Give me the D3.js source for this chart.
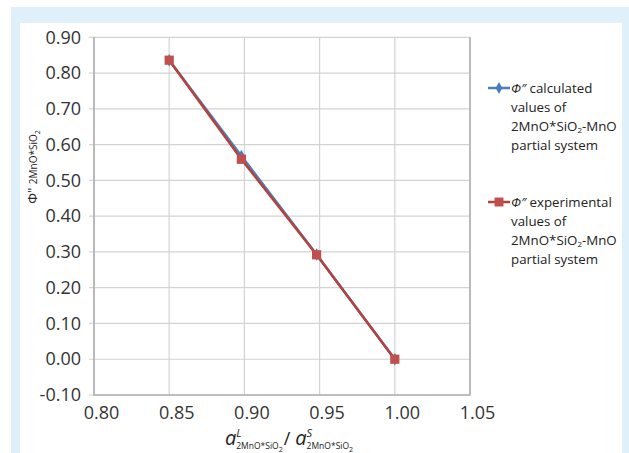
<!DOCTYPE html>
<html>
<head>
<meta charset="utf-8">
<script src="https://cdn.jsdelivr.net/npm/d3@7"></script>
<style>
  body { margin: 0; background: #fff; }
  text { font-family: "Open Sans", sans-serif; }
</style>
</head>
<body>
<svg width="629" height="453"></svg>
<script>
  // data
  var xValues = [0.850, 0.898, 0.948, 1.000];
  var calculated = [0.836, 0.568, 0.293, 0.000];
  var experimental = [0.836, 0.559, 0.292, 0.000];
  var xTicks = [0.80, 0.85, 0.90, 0.95, 1.00, 1.05];
  var yTicks = [-0.10, 0.00, 0.10, 0.20, 0.30, 0.40, 0.50, 0.60, 0.70, 0.80, 0.90];
  var legendLines = [
    ["calculated", "values of", "2MnO*SiO|2|-MnO", "partial system"],
    ["experimental", "values of", "2MnO*SiO|2|-MnO", "partial system"]
  ];

  var blue = "#4a7ebb", red = "#c0504d", redLine = "#b5413d";
  var grid = "#d3d3d3", axisCol = "#b0b0b0";

  var svg = d3.select("svg");

  // frame: light blue band with white panel
  svg.append("rect").attr("x", 11).attr("y", 7).attr("width", 618).attr("height", 446).attr("fill", "#dff0fa");
  svg.append("rect").attr("x", 20).attr("y", 23).attr("width", 602).attr("height", 430).attr("fill", "#fff");

  var x = d3.scaleLinear().domain([0.80, 1.05]).range([94, 470]);
  var y = d3.scaleLinear().domain([-0.10, 0.90]).range([395, 37.3]);

  // grid
  svg.append("g").selectAll("line").data(yTicks).enter().append("line")
    .attr("x1", x(0.80) - 5).attr("x2", x(1.05))
    .attr("y1", function(d){ return y(d); }).attr("y2", function(d){ return y(d); })
    .attr("stroke", grid).attr("stroke-width", 1.2);
  svg.append("g").selectAll("line").data(xTicks).enter().append("line")
    .attr("x1", function(d){ return x(d); }).attr("x2", function(d){ return x(d); })
    .attr("y1", y(0.90)).attr("y2", y(-0.10))
    .attr("stroke", grid).attr("stroke-width", 1.2);

  // axis lines
  svg.append("path")
    .attr("d", "M" + x(0.80) + "," + y(0.90) + "V" + y(-0.10) + "H" + x(1.05) + "V" + y(0.90))
    .attr("fill", "none").attr("stroke", axisCol).attr("stroke-width", 1.6);

  // tick labels
  var fmt = function(d){ return d.toFixed(2); };
  var yAxis = svg.append("g").attr("transform", "translate(" + x(0.80) + ",0)")
    .call(d3.axisLeft(y).tickValues(yTicks).tickFormat(fmt).tickSize(0).tickPadding(13));
  yAxis.select(".domain").remove();
  yAxis.selectAll("text").attr("font-size", 18).attr("fill", "#333").attr("font-family", "Open Sans");

  var xAxis = svg.append("g").attr("transform", "translate(0," + y(-0.10) + ")")
    .call(d3.axisBottom(x).tickValues(xTicks).tickFormat(fmt).tickSize(0));
  xAxis.select(".domain").remove();
  xAxis.selectAll("text").attr("y", 24).attr("dy", 0).attr("dx", 7)
    .attr("font-size", 18).attr("fill", "#333").attr("font-family", "Open Sans");

  // series
  var line = d3.line()
    .x(function(d){ return x(d[0]); })
    .y(function(d){ return y(d[1]); });
  var calcPts = xValues.map(function(v, i){ return [v, calculated[i]]; });
  var expPts = xValues.map(function(v, i){ return [v, experimental[i]]; });

  svg.append("path").datum(calcPts).attr("d", line)
    .attr("fill", "none").attr("stroke", blue).attr("stroke-width", 2.5);
  svg.append("g").selectAll("path").data(calcPts).enter().append("path")
    .attr("d", d3.symbol().type(d3.symbolDiamond).size(45))
    .attr("transform", function(d){ return "translate(" + x(d[0]) + "," + y(d[1]) + ")"; })
    .attr("fill", blue);

  svg.append("path").datum(expPts).attr("d", line)
    .attr("fill", "none").attr("stroke", redLine).attr("stroke-width", 2.5);
  svg.append("g").selectAll("path").data(expPts).enter().append("path")
    .attr("d", d3.symbol().type(d3.symbolSquare).size(85))
    .attr("transform", function(d){ return "translate(" + x(d[0]) + "," + y(d[1]) + ")"; })
    .attr("fill", red);

  // legend
  var legendY = [88, 202];
  var colors = [[blue, blue], [redLine, red]];
  legendLines.forEach(function(lines, k){
    var g = svg.append("g").attr("transform", "translate(488," + legendY[k] + ")");
    g.append("line").attr("x1", 0).attr("x2", 22).attr("y1", 0).attr("y2", 0)
      .attr("stroke", colors[k][0]).attr("stroke-width", 2.5);
    g.append("path")
      .attr("d", d3.symbol().type(k === 0 ? d3.symbolDiamond : d3.symbolSquare).size(k === 0 ? 40 : 80))
      .attr("transform", "translate(11,0)").attr("fill", colors[k][1]);
    lines.forEach(function(s, i){
      var t = g.append("text").attr("x", 23).attr("y", 5.3 + i * 18.9)
        .attr("font-size", 13.3).attr("fill", "#222");
      if (i === 0) {
        t.append("tspan").attr("font-style", "italic").text("\u03A6\u2033");
        t.append("tspan").text(" " + s);
      } else {
        var parts = s.split("|");
        t.append("tspan").text(parts[0]);
        if (parts.length > 1) {
          t.append("tspan").attr("font-size", 8).attr("dy", 2).text(parts[1]);
          t.append("tspan").attr("dy", -2).text(parts[2]);
        }
      }
    });
  });

  // y axis title
  var yt = svg.append("text").attr("transform", "translate(37,167) rotate(-90)")
    .attr("text-anchor", "middle").attr("fill", "#222");
  yt.append("tspan").attr("font-size", 13.5).text("\u03A6\" ");
  yt.append("tspan").attr("font-size", 10).text("2MnO*SiO");
  yt.append("tspan").attr("font-size", 7).attr("dy", 2.5).text("2");

  // x axis title
  var xt = svg.append("g");
  var cx = 0;
  function piece(str, size, dyv, italic, advance){
    var t = xt.append("text").attr("x", cx).attr("y", dyv)
      .attr("font-size", size).attr("fill", "#222").text(str);
    if (italic) t.attr("font-style", "italic");
    var w = t.node().getComputedTextLength();
    if (advance) cx += w;
    return w;
  }
  ["L", "S"].forEach(function(sup, k){
    if (k === 1) { cx += 1; piece("/", 18, 0, false, true); cx += 5; }
    piece("a", 20, 0, true, true);
    piece(sup, 11, -8, true, false);
    piece("2MnO*SiO", 8.5, 4, false, true);
    piece("2", 7, 7, false, true);
  });
  xt.attr("transform", "translate(" + (289 - cx / 2) + ",445)");
</script>
</body>
</html>
